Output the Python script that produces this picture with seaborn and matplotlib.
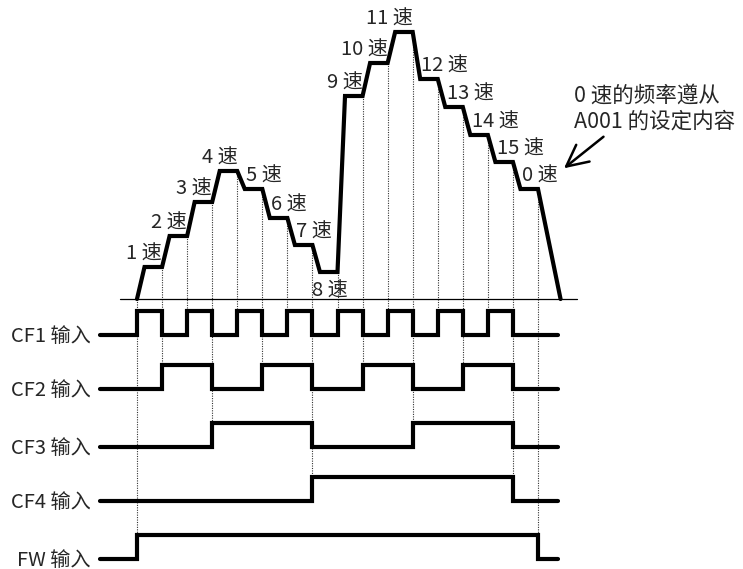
import matplotlib
matplotlib.use("Agg")
import matplotlib.pyplot as plt
import seaborn as sns
import pandas as pd

sns.set_theme(style="white")
plt.rcParams['font.family'] = ['Noto Sans CJK SC', 'DejaVu Sans']

# speed labels for each time slot (slot k runs from t=k to t=k+1)
speed_names = ["1", "2", "3", "4", "5", "6", "7", "8",
               "9", "10", "11", "12", "13", "14", "15", "0"]
# output frequency of each slot (height above the zero line)
speed_levels = [32, 63, 97, 128, 110, 81, 54, 27,
                203, 236, 267, 220, 192, 164, 137, 110]

# multi-speed inputs, state in each slot
cf1 = [1, 0, 1, 0, 1, 0, 1, 0, 1, 0, 1, 0, 1, 0, 1, 0]
cf2 = [0, 1, 1, 0, 0, 1, 1, 0, 0, 1, 1, 0, 0, 1, 1, 0]
cf3 = [0, 0, 0, 1, 1, 1, 1, 0, 0, 0, 0, 1, 1, 1, 1, 0]
cf4 = [0, 0, 0, 0, 0, 0, 0, 1, 1, 1, 1, 1, 1, 1, 1, 0]
fw = [1] * 16
signal_names = ["CF1 输入", "CF2 输入", "CF3 输入", "CF4 输入", "FW 输入"]
signals = [cf1, cf2, cf3, cf4, fw]

# layout (pixel rows, y grows downward)
zero_y = 299
row_low = [334.5, 389, 446.5, 500.5, 558.5]
pulse_h = 24
ramp = 0.3
stop_ramp = 0.9
px_per_t = 401 / 16
x0 = 137
fs = 14.5

fig = plt.figure(figsize=(7.43, 5.69), dpi=100)
ax = fig.add_axes([0, 0, 1, 1])
ax.set_xlim(-x0 / px_per_t, (743 - x0) / px_per_t)
ax.set_ylim(569, 0)
ax.axis("off")

# frequency profile
t_pts = [0]
f_pts = [0]
for k, lev in enumerate(speed_levels):
    t_pts += [k + ramp, k + 1]
    f_pts += [lev, lev]
t_pts.append(16 + stop_ramp)
f_pts.append(0)
prof = pd.DataFrame({"t": t_pts, "y": [zero_y - f for f in f_pts]})
sns.lineplot(data=prof, x="t", y="y", ax=ax, color="black", lw=3,
             estimator=None, sort=False, solid_joinstyle="miter")

# zero line
ax.plot([-0.68, 17.56], [zero_y, zero_y], color="black", lw=0.9)

# input waveforms
t_start, t_end = -1.48, 16.78
for i, (name, sig) in enumerate(zip(signal_names, signals)):
    xs = [t_start] + list(range(16)) + [16, t_end]
    ys = [0] + sig + [0, 0]
    wave = pd.DataFrame({"t": xs, "y": [row_low[i] - pulse_h * v for v in ys]})
    sns.lineplot(data=wave, x="t", y="y", ax=ax, color="black", lw=3,
                 estimator=None, sort=False, drawstyle="steps-post",
                 solid_joinstyle="miter")
    ax.text(-1.86, row_low[i] + 1.5, name, ha="right", va="center", fontsize=fs)

# dotted timing guides
for k in range(17):
    if k == 0:
        top = zero_y
        lowest = 4
    elif k == 16:
        top = zero_y - speed_levels[15]
        lowest = 4
    else:
        top = zero_y - speed_levels[k - 1]
        changed = [j for j in range(4) if signals[j][k - 1] != signals[j][k]]
        lowest = max(changed)
    ax.plot([k, k], [top, row_low[lowest] - pulse_h], color="#333333", lw=0.8,
            linestyle=(0, (1, 1.2)), zorder=0)

# speed labels
for k, (nm, lev) in enumerate(zip(speed_names, speed_levels)):
    label = nm + " 速"
    y = zero_y - lev
    if nm == "8":
        ax.text(k + 0.0, y + 9, label, ha="left", va="top", fontsize=fs)
    elif k == 0 or lev > speed_levels[k - 1]:
        ax.text(k + 1.0, y - 2, label, ha="right", va="bottom", fontsize=fs)
    else:
        ax.text(k + ramp + 0.05, y - 2, label, ha="left", va="bottom", fontsize=fs)

# note on speed 0
ax.text(17.45, 96, "0 速的频率遵从", ha="left", va="center", fontsize=15.5)
ax.text(17.45, 122, "A001 的设定内容", ha="left", va="center", fontsize=15.5)
ax.annotate("", xy=(16.95, 170), xytext=(18.7, 135),
            arrowprops=dict(arrowstyle="->,head_length=0.7,head_width=0.35",
                            lw=1.8, color="black", mutation_scale=22))

fig.savefig("out.png", dpi=100)
